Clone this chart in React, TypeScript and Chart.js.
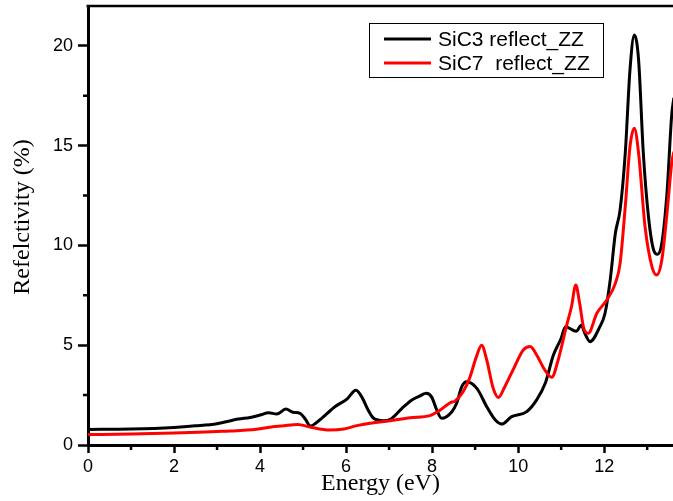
import React, { useEffect, useRef } from "react";
import { Chart, registerables } from "chart.js";

Chart.register(...registerables);

// ---- Data ----
const sic3Label = "SiC3 reflect_ZZ";
const sic3Energy = [
  0, 1, 2, 2.5, 3, 3.5, 3.77, 4.0, 4.2, 4.39, 4.6, 4.77, 4.93, 5.05, 5.17, 5.3, 5.45,
  5.74, 6.02, 6.23, 6.38, 6.5, 6.64, 6.87, 7.03, 7.3, 7.53, 7.72, 7.86, 7.99, 8.1,
  8.22, 8.46, 8.57, 8.69, 8.8, 9.04, 9.27, 9.47, 9.62, 9.85, 10.2, 10.43, 10.63,
  10.82, 11.0, 11.1, 11.35, 11.47, 11.55, 11.67, 11.9, 12.02, 12.14, 12.26, 12.37,
  12.49, 12.6, 12.7, 12.8, 12.91, 13.03, 13.15, 13.24, 13.34, 13.46, 13.57, 13.62,
];
const sic3Reflect = [
  0.78, 0.8, 0.88, 0.96, 1.07, 1.3, 1.38, 1.5, 1.62, 1.55, 1.8, 1.64, 1.59, 1.3, 0.95,
  1.1, 1.37, 1.92, 2.3, 2.74, 2.35, 1.8, 1.34, 1.22, 1.29, 1.84, 2.26, 2.46, 2.59, 2.4,
  1.8, 1.34, 1.67, 2.09, 2.92, 3.17, 2.84, 1.92, 1.25, 1.05, 1.42, 1.67, 2.26, 3.09,
  4.51, 5.35, 5.93, 5.7, 6.0, 5.6, 5.18, 5.93, 6.6, 8.27, 10.61, 11.78, 14.62, 18.8,
  20.55, 19.3, 14.62, 11.44, 9.77, 9.56, 10.11, 12.62, 16.54, 17.4,
];

const sic7Label = "SiC7  reflect_ZZ";
const sic7Energy = [
  0, 1, 2, 3, 3.3, 3.92, 4.3, 4.5, 4.88, 5.16, 5.62, 5.95, 6.25, 6.56, 7.02, 7.49,
  7.95, 8.19, 8.42, 8.53, 8.72, 8.87, 9.03, 9.15, 9.27, 9.42, 9.54, 9.69, 9.88,
  10.12, 10.28, 10.43, 10.62, 10.78, 10.93, 11.12, 11.24, 11.34, 11.43, 11.52,
  11.63, 11.83, 12.06, 12.26, 12.37, 12.49, 12.6, 12.7, 12.8, 12.95, 13.11, 13.22,
  13.34, 13.46, 13.57, 13.62,
];
const sic7Reflect = [
  0.52, 0.55, 0.6, 0.68, 0.7, 0.79, 0.92, 0.95, 1.03, 0.9, 0.75, 0.8, 0.97, 1.09,
  1.22, 1.37, 1.47, 1.75, 2.12, 2.2, 2.67, 3.34, 4.43, 5.0, 4.26, 2.84, 2.38, 2.92,
  3.76, 4.76, 4.93, 4.51, 3.76, 3.39, 4.26, 5.93, 6.93, 8.02, 7.1, 5.9, 5.6, 6.6,
  7.27, 8.1, 9.1, 11.94, 14.95, 15.87, 14.62, 10.94, 8.94, 8.52, 9.27, 11.61, 14.12,
  14.7,
];

const xMajorTicks = [0, 2, 4, 6, 8, 10, 12];
const xMinorTicks = [1, 3, 5, 7, 9, 11, 13];
const yMajorTicks = [0, 5, 10, 15, 20];
const yMinorTicks = [2.5, 7.5, 12.5, 17.5];
const xTitle = "Energy (eV)";
const yTitle = "Refelctivity (%)";

const sansFont = "'Liberation Sans', Arial, sans-serif";
const serifFont = "'Liberation Serif', 'Times New Roman', serif";

const framePlugin = {
  id: "frameAndMinor",
  afterDraw(chart: any) {
    const { ctx, chartArea } = chart;
    const xs = chart.scales.x;
    const ys = chart.scales.y;
    ctx.save();
    ctx.strokeStyle = "#000";
    // top frame line
    ctx.lineWidth = 2.5;
    ctx.beginPath();
    ctx.moveTo(chartArea.left - 1.5, chartArea.top);
    ctx.lineTo(chartArea.right + 2, chartArea.top);
    ctx.stroke();
    // minor ticks
    ctx.lineWidth = 2.5;
    ctx.beginPath();
    xMinorTicks.forEach((v) => {
      const px = xs.getPixelForValue(v);
      ctx.moveTo(px, chartArea.bottom);
      ctx.lineTo(px, chartArea.bottom + 5);
    });
    yMinorTicks.forEach((v) => {
      const py = ys.getPixelForValue(v);
      ctx.moveTo(chartArea.left, py);
      ctx.lineTo(chartArea.left - 5, py);
    });
    ctx.stroke();

    // y-axis title
    ctx.save();
    ctx.translate(23, 217);
    ctx.rotate(-Math.PI / 2);
    ctx.font = `24px ${serifFont}`;
    ctx.fillStyle = "#000";
    ctx.textAlign = "center";
    ctx.textBaseline = "middle";
    ctx.fillText(yTitle, 0, 0);
    ctx.restore();

    // legend box
    const bx = 369, by = 23, bw = 234, bh = 54;
    ctx.lineWidth = 1;
    ctx.strokeStyle = "#000";
    ctx.strokeRect(bx + 0.5, by + 0.5, bw, bh);
    const rows = [39, 63];
    ctx.font = `21px ${sansFont}`;
    ctx.textBaseline = "middle";
    ctx.textAlign = "left";
    chart.data.datasets.forEach((ds: any, i: number) => {
      const y = rows[i];
      ctx.strokeStyle = ds.borderColor;
      ctx.lineWidth = 3;
      ctx.beginPath();
      ctx.moveTo(384, y);
      ctx.lineTo(431, y);
      ctx.stroke();
      ctx.fillStyle = "#000";
      ctx.fillText(ds.label, 438, y + 1);
    });
    ctx.restore();
  },
};

export default function App() {
  const canvasRef = useRef<HTMLCanvasElement | null>(null);

  useEffect(() => {
    const canvas = canvasRef.current;
    if (!canvas) return;
    const chart = new Chart(canvas, {
      type: "line",
      data: {
        datasets: [
          {
            label: sic3Label,
            data: sic3Energy.map((x, i) => ({ x, y: sic3Reflect[i] })),
            borderColor: "#000000",
            borderWidth: 3,
            pointRadius: 0,
            cubicInterpolationMode: "monotone",
            fill: false,
            order: 1,
          },
          {
            label: sic7Label,
            data: sic7Energy.map((x, i) => ({ x, y: sic7Reflect[i] })),
            borderColor: "#ff0000",
            borderWidth: 3,
            pointRadius: 0,
            cubicInterpolationMode: "monotone",
            fill: false,
            order: 0,
          },
        ],
      },
      options: {
        animation: false,
        responsive: false,
        maintainAspectRatio: false,
        layout: { padding: { top: 6, left: 0, right: 0, bottom: 0 } },
        plugins: { legend: { display: false }, tooltip: { enabled: false } },
        scales: {
          x: {
            type: "linear",
            min: 0,
            max: 13.6,
            afterBuildTicks: (s: any) => {
              s.ticks = xMajorTicks.map((v) => ({ value: v }));
            },
            afterFit: (s: any) => {
              s.height = 56;
              s.paddingLeft = 0;
              s.paddingRight = 0;
            },
            ticks: {
              color: "#000",
              font: { family: sansFont, size: 18 },
              padding: 3,
              maxRotation: 0,
              autoSkip: false,
            },
            grid: {
              display: true,
              drawOnChartArea: false,
              drawTicks: true,
              tickLength: 8,
              tickWidth: 2.5,
              tickColor: "#000",
              color: "#000",
            },
            border: { display: true, color: "#000", width: 3 },
            title: {
              display: true,
              text: xTitle,
              color: "#000",
              font: { family: serifFont, size: 24 },
              padding: { top: 0, bottom: 3 },
            },
          },
          y: {
            type: "linear",
            min: 0,
            max: 22,
            afterBuildTicks: (s: any) => {
              s.ticks = yMajorTicks.map((v) => ({ value: v }));
            },
            afterFit: (s: any) => {
              s.width = 88;
              s.paddingTop = 0;
              s.paddingBottom = 0;
            },
            ticks: {
              color: "#000",
              font: { family: sansFont, size: 18 },
              padding: 5,
              autoSkip: false,
            },
            grid: {
              display: true,
              drawOnChartArea: false,
              drawTicks: true,
              tickLength: 10,
              tickWidth: 2.5,
              tickColor: "#000",
              color: "#000",
            },
            border: { display: true, color: "#000", width: 3 },
            title: { display: false },
          },
        },
      },
      plugins: [framePlugin],
    } as any);
    return () => chart.destroy();
  }, []);

  return (
    <div
      style={{
        position: "fixed",
        left: 0,
        top: 0,
        width: 673,
        height: 501,
        background: "#fff",
      }}
    >
      <canvas ref={canvasRef} width={673} height={501} style={{ display: "block" }} />
    </div>
  );
}
